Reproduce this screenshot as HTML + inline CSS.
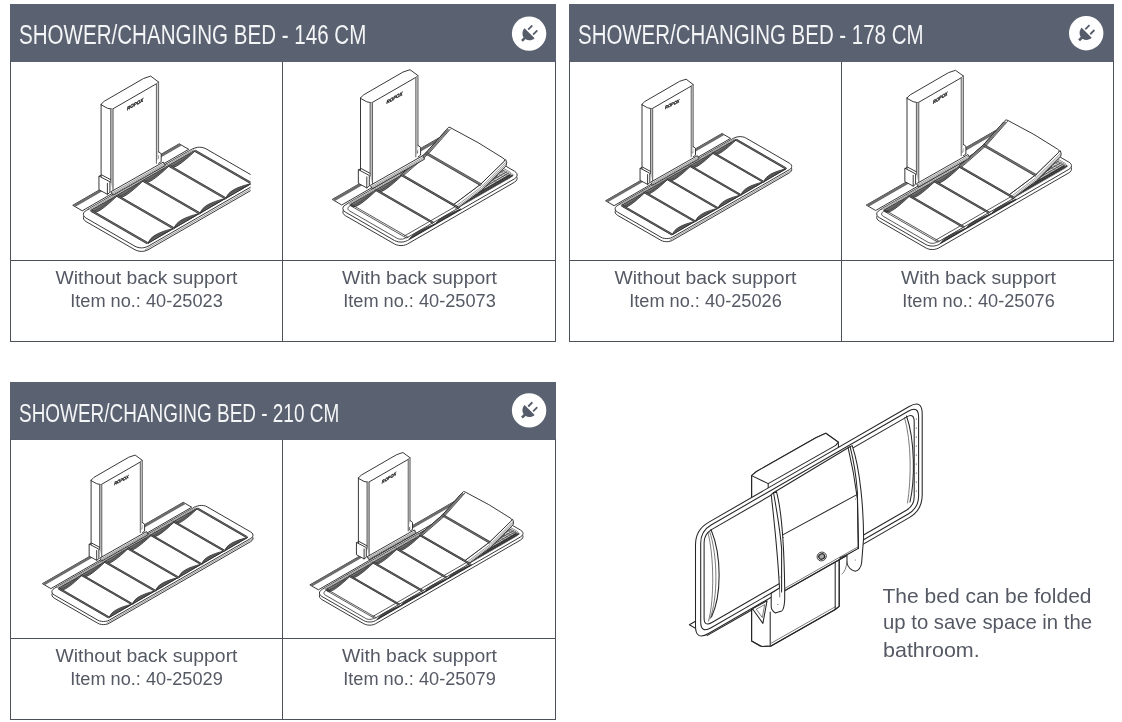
<!DOCTYPE html>
<html><head><meta charset="utf-8"><title>Shower/Changing Bed</title>
<style>
html,body{margin:0;padding:0;background:#fff;}
body{will-change:transform;width:1122px;height:722px;position:relative;overflow:hidden;font-family:"Liberation Sans",sans-serif;color:#545964;}
.card{position:absolute;width:546px;height:338px;}
.hd{position:absolute;left:0;top:0;width:546px;height:58px;background:#5a6170;}
.hd h2{position:absolute;left:9.4px;top:15.5px;margin:0;font-weight:400;font-size:26.8px;line-height:30px;color:#f4f5f7;white-space:nowrap;transform-origin:0 50%;transform:scaleX(.7674);letter-spacing:0;}
.ic{position:absolute;left:502px;top:13px;width:34px;height:34px;}
.bx{position:absolute;left:0;top:57px;width:544px;height:280px;border:1px solid #4c5058;border-top:none;}
.c2w .bx{width:543px}.c2w .hd{width:545px}.c2w .hl{width:545px}
.vl{position:absolute;left:272px;top:58px;width:1px;height:280px;background:#4c5058;}
.hl{position:absolute;left:0;top:256px;width:546px;height:1px;background:#4c5058;}
.cap{position:absolute;top:262.5px;width:273px;text-align:center;font-size:18px;line-height:23.6px;white-space:nowrap;}
.cap span{display:block;}
.cap .a{transform:scaleX(1.076);}
.cap .b{transform:scaleX(1.01);}
.c1{left:0}.c2{left:273px}
.note{position:absolute;left:882.5px;top:581.5px;font-size:21px;line-height:27.3px;white-space:nowrap;}
.note span{display:block;transform-origin:0 50%;}
svg.dr{position:absolute;left:0;top:0;pointer-events:none}
svg.ic2 path,svg.ic2 rect{stroke:none}
svg.dr path{fill:none;stroke:#2e2e30;stroke-width:.95;stroke-linejoin:round;stroke-linecap:round}
svg.dr .lw{fill:#fff}
svg.dr .w{fill:#fff;stroke:none}
svg.dr .t{stroke-width:.6;stroke:#555}
svg.dr .g{stroke:#555;stroke-width:.9}
svg.dr .k{stroke:#2e2e30;stroke-width:.8}
svg.dr .k2{stroke:#6c6c6c;stroke-width:2.7;stroke-linecap:butt}
svg.dr .t2{stroke:#333;stroke-width:.6}
svg.dr .sm{stroke:#777;stroke-width:1.7;stroke-linecap:butt}
svg.dr .tr{fill:#d4d4d4;stroke:none}
svg.dr .k3{stroke:#333;stroke-width:1.3}
svg.dr .gb{fill:#bdbdbd;stroke:none}
svg.dr .gb2{fill:#d0d0d0;stroke:none}
svg.dr .cr{fill:#6a6a6a;stroke:#2e2e30;stroke-width:.8}
svg.dr path.f{stroke:#262628;stroke-width:1.05}
svg.dr path.f.t{stroke-width:.7;stroke:#444}
svg.dr .logo{font:italic 700 5px "Liberation Sans",sans-serif;fill:#222;stroke:#222;stroke-width:.35;text-anchor:middle}
</style></head><body>

<div class="card" style="left:10px;top:4px">
 <div class="hd"><h2>SHOWER/CHANGING BED - 146 CM</h2></div>
 <div class="bx"></div><div class="vl"></div><div class="hl"></div>
 <div class="cap c1"><span class="a">Without back support</span><span class="b">Item no.: 40-25023</span></div>
 <div class="cap c2"><span class="a">With back support</span><span class="b">Item no.: 40-25073</span></div>
</div>

<div class="card c2w" style="left:569px;top:4px">
 <div class="hd"><h2 style="transform:scaleX(.7632)">SHOWER/CHANGING BED - 178 CM</h2></div>
 <div class="bx"></div><div class="vl"></div><div class="hl"></div>
 <div class="cap c1"><span class="a">Without back support</span><span class="b">Item no.: 40-25026</span></div>
 <div class="cap c2"><span class="a">With back support</span><span class="b">Item no.: 40-25076</span></div>
</div>

<div class="card" style="left:10px;top:382px">
 <div class="hd"><h2 style="font-size:25.6px;top:16px;transform:scaleX(.7407)">SHOWER/CHANGING BED - 210 CM</h2></div>
 <div class="bx"></div><div class="vl"></div><div class="hl"></div>
 <div class="cap c1"><span class="a">Without back support</span><span class="b">Item no.: 40-25029</span></div>
 <div class="cap c2"><span class="a">With back support</span><span class="b">Item no.: 40-25079</span></div>
</div>

<svg class="dr" width="1122" height="722" viewBox="0 0 1122 722">
<clipPath id="cl1"><rect x="0" y="62" width="250.6" height="199"/></clipPath>
<g id="bed1" clip-path="url(#cl1)">
<path class="lw" d="M73.1 205.1 L179.2 143.8 L188.7 149.3 L82.6 210.6Z"/>
<path class="k2" d="M74.4 205.8 L180.5 144.6"/>
<path class="w" d="M101.1 104.3 L104.3 101.2 L143.5 78.5 L150.6 76.1 L158.6 82 L158.6 154.3 L156.4 164.3 L113.4 192.3 L110.7 192.3 L101.1 184.3Z"/>
<path class="l" d="M101.1 104.3 L104.3 101.2 L143.5 78.5 L150.6 76.1 L158.6 82 L156.4 83.8 L112.3 109.2 L107.8 108.3Z"/>
<path class="l" d="M101.1 104.3 L101.1 176.8"/>
<path class="gb" d="M110.7 108.9 L113.1 109.2 L113.1 191.3 L110.7 182.3Z"/>
<path class="gb2" d="M156.4 83.8 L158.6 82 L158.6 152.3 L156.4 163.3Z"/>
<path class="g" d="M110.7 108.9 L110.7 182.3"/>
<path class="g" d="M113.1 109.2 L113.1 191.3"/>
<path class="g" d="M156.4 83.8 L156.4 163.3"/>
<path class="g" d="M158.6 82 L158.6 152.3"/>
<path class="lw" d="M99.3 176.2 L109.9 181.8 L109.9 192.4 L107.4 194.3 L99.3 189.9Z"/>
<path class="l" d="M107.4 183.3 L107.4 194.3"/>
<path class="l" d="M99.3 176.2 L101.7 174.9 L110.7 179.7"/>
<path class="lw" d="M158.7 151.8 L161.2 153.7 L161.2 161.5 L158.7 163.3"/>
<text class="logo" transform="matrix(0.9 -0.5 0 1 135.1 105.9)">ROPOX</text>
<path class="lw" d="M193 152.3 L194.9 151.5 L197.2 150.9 L199.5 150.7 L201.9 150.9 L204.1 151.5 L206 152.3 L255 180.6 L256.4 181.6 L257.3 182.9 L257.7 184.3 L257.3 185.7 L256.4 187 L255 188.1 L148 249.8 L146.1 250.6 L143.9 251.2 L141.5 251.4 L139.1 251.2 L136.9 250.6 L135 249.8 L86.1 221.6 L84.6 220.5 L83.7 219.2 L83.4 217.8 L83.7 216.4 L84.6 215.1 L86.1 214.1Z"/>
<path class="lw" d="M193 148.8 L194.9 148 L197.2 147.4 L199.5 147.2 L201.9 147.4 L204.1 148 L206 148.8 L255 177.1 L256.4 178.1 L257.3 179.4 L257.7 180.8 L257.3 182.2 L256.4 183.5 L255 184.6 L148 246.3 L146.1 247.1 L143.9 247.7 L141.5 247.9 L139.1 247.7 L136.9 247.1 L135 246.3 L86.1 218.1 L84.6 217 L83.7 215.7 L83.4 214.3 L83.7 212.9 L84.6 211.6 L86.1 210.6Z"/>
<path class="t" d="M145.4 249.6 L257.6 184.9"/>
<path class="w" d="M87.9 208.8 L191.7 148.9 L251.4 183.3 L147.6 243.2Z"/>
<path class="cr" d="M91.4 210.8 C93.5 216.1 102.3 210.1 117.3 195.8Z"/>
<path class="t2" d="M91.4 210.8 C93.5 213.1 102.3 207.6 112.1 198.8"/>
<path class="k" d="M88.3 209 L114.2 194"/>
<path class="t" d="M89.5 209.7 L115.4 194.7"/>
<path class="k" d="M90.6 210.3 L116.6 195.4"/>
<path class="cr" d="M117.3 195.8 C119.4 201.1 128.2 195.1 143.3 180.8Z"/>
<path class="t2" d="M117.3 195.8 C119.4 198.2 128.2 192.6 138.1 183.8"/>
<path class="k" d="M114.2 194 L140.2 179"/>
<path class="t" d="M115.4 194.7 L141.4 179.7"/>
<path class="k" d="M116.6 195.4 L142.5 180.4"/>
<path class="cr" d="M143.3 180.8 C145.4 186.1 154.2 180.1 169.3 165.8Z"/>
<path class="t2" d="M143.3 180.8 C145.4 183.2 154.2 177.6 164.1 168.8"/>
<path class="k" d="M140.2 179 L166.1 164"/>
<path class="t" d="M141.4 179.7 L167.3 164.7"/>
<path class="k" d="M142.5 180.4 L168.5 165.4"/>
<path class="cr" d="M169.3 165.8 C171.3 171.1 180.2 165.1 195.2 150.9Z"/>
<path class="t2" d="M169.3 165.8 C171.3 168.2 180.2 162.6 190 153.8"/>
<path class="k" d="M166.1 164 L192.1 149.1"/>
<path class="t" d="M167.3 164.7 L193.3 149.8"/>
<path class="k" d="M168.5 165.4 L194.4 150.4"/>
<path class="cr" d="M148.3 242.8 C150.3 236.3 158.7 232.1 173.1 228.5Z"/>
<path class="t2" d="M148.3 242.8 C150.3 238.7 158.7 234.3 168.1 231.4"/>
<path class="cr" d="M174.2 227.9 C176.2 221.3 184.7 217.2 199.1 213.5Z"/>
<path class="t2" d="M174.2 227.9 C176.2 223.7 184.7 219.3 194.1 216.4"/>
<path class="cr" d="M200.2 212.9 C202.2 206.3 210.6 202.2 225 198.5Z"/>
<path class="t2" d="M200.2 212.9 C202.2 208.8 210.6 204.3 220.1 201.4"/>
<path class="cr" d="M226.1 197.9 C228.1 191.3 236.6 187.2 251 183.6Z"/>
<path class="t2" d="M226.1 197.9 C228.1 193.8 236.6 189.3 246 186.4"/>
<path class="l" d="M147.8 243.4 L251.6 183.4"/>
<path class="sm" d="M91.4 210.8 L147.6 243.2"/>
<path class="k" d="M90.6 211.2 L146.8 243.7"/>
<path class="k" d="M92.1 210.4 L148.3 242.8"/>
<path class="sm" d="M117.3 195.8 L174.1 228.6"/>
<path class="k" d="M116.6 196.2 L173.3 229"/>
<path class="k" d="M118.1 195.4 L174.8 228.1"/>
<path class="sm" d="M143.3 180.8 L200 213.6"/>
<path class="k" d="M142.6 181.3 L199.3 214"/>
<path class="k" d="M144 180.4 L200.8 213.2"/>
<path class="sm" d="M169.3 165.8 L226 198.6"/>
<path class="k" d="M168.5 166.3 L225.2 199"/>
<path class="k" d="M170 165.4 L226.7 198.2"/>
<path class="sm" d="M195.2 150.9 L250.5 182.8"/>
<path class="k" d="M194.5 151.3 L249.8 183.2"/>
<path class="k" d="M195.9 150.4 L251.3 182.4"/>
<path class="lw" d="M111.2 191.6 L163.3 162.1 L165.3 165.5 L113.2 195Z"/>
<path class="t" d="M112 193 L164.1 163.5"/>
<path class="t" d="M112.6 194.1 L164.7 164.6"/>
</g>
<g id="bed2">
<path class="lw" d="M332.6 199.2 L438.7 138 L448.2 143.5 L342.1 204.8Z"/>
<path class="k2" d="M333.9 200 L440 138.8"/>
<path class="w" d="M360.5 97.9 L363.7 94.8 L402.9 72.1 L410 69.7 L418 75.6 L418 147.9 L415.8 157.9 L372.8 185.9 L370.1 185.9 L360.5 177.9Z"/>
<path class="l" d="M360.5 97.9 L363.7 94.8 L402.9 72.1 L410 69.7 L418 75.6 L415.8 77.4 L371.7 102.8 L367.2 101.9Z"/>
<path class="l" d="M360.5 97.9 L360.5 170.4"/>
<path class="gb" d="M370.1 102.5 L372.5 102.8 L372.5 184.9 L370.1 175.9Z"/>
<path class="gb2" d="M415.8 77.4 L418 75.6 L418 145.9 L415.8 156.9Z"/>
<path class="g" d="M370.1 102.5 L370.1 175.9"/>
<path class="g" d="M372.5 102.8 L372.5 184.9"/>
<path class="g" d="M415.8 77.4 L415.8 156.9"/>
<path class="g" d="M418 75.6 L418 145.9"/>
<path class="lw" d="M358.7 169.8 L369.3 175.4 L369.3 186 L366.8 187.9 L358.7 183.5Z"/>
<path class="l" d="M366.8 176.9 L366.8 187.9"/>
<path class="l" d="M358.7 169.8 L361.1 168.5 L370.1 173.3"/>
<path class="lw" d="M418.1 145.4 L420.6 147.3 L420.6 155.1 L418.1 156.9"/>
<text class="logo" transform="matrix(0.9 -0.5 0 1 394.5 99.5)">ROPOX</text>
<path class="lw" d="M452.5 146.5 L454.4 145.7 L456.7 145.1 L459 144.9 L461.4 145.1 L463.6 145.7 L465.5 146.5 L514.5 174.8 L515.9 175.8 L516.8 177.1 L517.2 178.5 L516.8 179.9 L515.9 181.2 L514.5 182.2 L407.5 244 L405.6 244.8 L403.4 245.4 L401 245.6 L398.6 245.4 L396.4 244.8 L394.5 244 L345.6 215.8 L344.1 214.7 L343.2 213.4 L342.9 212 L343.2 210.6 L344.1 209.3 L345.6 208.2Z"/>
<path class="lw" d="M452.5 143 L454.4 142.2 L456.7 141.6 L459 141.4 L461.4 141.6 L463.6 142.2 L465.5 143 L514.5 171.2 L515.9 172.3 L516.8 173.6 L517.2 175 L516.8 176.4 L515.9 177.7 L514.5 178.8 L407.5 240.5 L405.6 241.3 L403.4 241.9 L401 242.1 L398.6 241.9 L396.4 241.3 L394.5 240.5 L345.6 212.2 L344.1 211.2 L343.2 209.9 L342.9 208.5 L343.2 207.1 L344.1 205.8 L345.6 204.8Z"/>
<path class="k" d="M454.7 145.4 L456 144.8 L457.5 144.4 L459 144.3 L460.6 144.4 L462.1 144.8 L463.4 145.4 L510.4 172.5 L511.4 173.2 L512 174.1 L512.2 175 L512 175.9 L511.4 176.8 L510.4 177.5 L405.3 238.1 L404.1 238.7 L402.6 239.1 L401 239.2 L399.4 239.1 L398 238.7 L396.7 238.1 L349.7 211 L348.7 210.3 L348.1 209.4 L347.9 208.5 L348.1 207.6 L348.7 206.7 L349.7 206Z"/>
<path class="w" d="M347.4 203 L398.8 173.3 L458.4 207.8 L407.1 237.4Z"/>
<path class="cr" d="M350.9 205 C352.9 210.3 361.7 204.4 376.6 190.2Z"/>
<path class="t2" d="M350.9 205 C352.9 207.4 361.7 201.8 371.4 193.1"/>
<path class="k" d="M347.8 203.2 L373.4 188.4"/>
<path class="t" d="M349 203.9 L374.6 189.1"/>
<path class="k" d="M350.1 204.5 L375.8 189.7"/>
<path class="cr" d="M376.6 190.2 C378.6 195.4 387.3 189.5 402.2 175.3Z"/>
<path class="t2" d="M376.6 190.2 C378.6 192.5 387.3 187 397.1 178.3"/>
<path class="k" d="M373.4 188.4 L399.1 173.5"/>
<path class="t" d="M374.6 189.1 L400.3 174.2"/>
<path class="k" d="M375.8 189.7 L401.5 174.9"/>
<path class="cr" d="M410.4 238.2 C412.3 234 420.5 229.7 434.6 224.2Z"/>
<path class="t2" d="M410.4 238.2 C412.3 235.4 420.5 230.9 429.7 227"/>
<path class="cr" d="M436 223.3 C438 219.2 446.2 214.9 460.3 209.3Z"/>
<path class="t2" d="M436 223.3 C438 220.6 446.2 216 455.4 212.1"/>
<path class="k" d="M409.3 238.8 L460.7 209.1"/>
<path class="k" d="M404.5 235.9 L455.8 206.3"/>
<path class="k" d="M407.3 237.6 L458.7 207.9"/>
<path class="k" d="M350.1 205.4 L406.3 237.9"/>
<path class="k" d="M351.6 204.6 L407.8 237"/>
<path class="sm" d="M376.6 190.2 L433.3 222.9"/>
<path class="k" d="M375.8 190.6 L432.5 223.3"/>
<path class="k" d="M377.3 189.8 L434 222.5"/>
<path class="tr" d="M460 206.7 L514.9 175 L474.6 151.7 L506.5 165.9Z"/>
<path class="k" d="M466.3 201.4 L512.1 174.9"/>
<path class="k" d="M468.2 198.5 L510.6 174"/>
<path class="k" d="M470.4 195.2 L508.8 173"/>
<path class="k" d="M473.1 191.1 L506.7 171.8"/>
<path class="k" d="M476.3 186.3 L504.1 170.2"/>
<path class="k" d="M480.1 180.6 L501 168.5"/>
<path class="t" d="M486 160.8 L511.9 175.8"/>
<path class="t" d="M483.9 162.1 L509.7 177"/>
<path class="t" d="M480.8 163.8 L506.7 178.8"/>
<path class="t" d="M477.4 165.8 L503.2 180.8"/>
<path class="t" d="M473.1 168.3 L498.9 183.2"/>
<path class="k3" d="M460.9 205.2 L512.4 175.6"/>
<path class="k3" d="M464.6 201.3 L509.5 175.4"/>
<path class="lw" d="M494.2 174.6 L474.5 194.5 L477.7 194.1 L497.2 175.6Z"/>
<path class="lw" d="M453.2 204.8 L480.3 184.5 L505.7 159.6 L506.7 162.5 L506.2 165.7 L481.4 190.3 L456.8 208.8 L458.1 208.6Z"/>
<path class="t" d="M455.1 206.8 L481 187.2 L506 162.2"/>
<path class="t" d="M455.5 208.5 L481.2 188.9 L506.1 164.1"/>
<path class="lw" d="M400.9 174.6 L425.8 153 L446.5 129.7 Q449 125.8 451 128 Q479.2 142.2 502.9 158 Q505.9 159.3 504.2 161.3 L480.3 184.5 L453.2 204.8Z"/>
<path class="sm" d="M402.1 175.2 L427 153.7 L448.6 129.2"/>
<path class="k" d="M400.9 174.6 L425.8 153 L446.5 129.7"/>
<path class="k" d="M403.2 175.9 L428.1 154.3 L450.5 129"/>
<path class="sm" d="M425.8 153 L481 184.9"/>
<path class="k" d="M425.1 153.7 L480.3 185.5"/>
<path class="k" d="M426.5 152.3 L481.7 184.1"/>
<path class="sm" d="M402.2 175.3 L459 208.1"/>
<path class="k" d="M401.5 175.8 L458.2 208.5"/>
<path class="k" d="M403 174.9 L459.7 207.7"/>
<path class="lw" d="M370.6 185.2 L422.7 155.7 L424.7 159.1 L372.6 188.6Z"/>
<path class="t" d="M371.4 186.6 L423.5 157.1"/>
<path class="t" d="M372 187.7 L424.1 158.2"/>
</g>
<g id="bed3">
<path class="lw" d="M605.9 200.6 L722 133.5 L730.5 138.4 L614.4 205.5Z"/>
<path class="k2" d="M607.1 201.2 L723.2 134.2"/>
<path class="w" d="M642 104.3 L644.8 101.5 L679.7 81.3 L686.1 79.2 L693.2 84.5 L693.2 148.8 L691.2 157.7 L652.9 182.6 L650.5 182.6 L642 175.5Z"/>
<path class="l" d="M642 104.3 L644.8 101.5 L679.7 81.3 L686.1 79.2 L693.2 84.5 L691.2 86.1 L652 108.7 L648 107.9Z"/>
<path class="l" d="M642 104.3 L642 168.8"/>
<path class="gb" d="M650.5 108.4 L652.7 108.7 L652.7 181.7 L650.5 173.7Z"/>
<path class="gb2" d="M691.2 86.1 L693.2 84.5 L693.2 147 L691.2 156.8Z"/>
<path class="g" d="M650.5 108.4 L650.5 173.7"/>
<path class="g" d="M652.7 108.7 L652.7 181.7"/>
<path class="g" d="M691.2 86.1 L691.2 156.8"/>
<path class="g" d="M693.2 84.5 L693.2 147"/>
<path class="lw" d="M640.4 168.3 L649.8 173.3 L649.8 182.7 L647.6 184.4 L640.4 180.5Z"/>
<path class="l" d="M647.6 174.6 L647.6 184.4"/>
<path class="l" d="M640.4 168.3 L642.5 167.1 L650.5 171.4"/>
<path class="lw" d="M693.3 146.6 L695.5 148.3 L695.5 155.2 L693.3 156.8"/>
<text class="logo" transform="matrix(0.8 -0.4 0 0.9 672.3 105.7)">ROPOX</text>
<path class="lw" d="M734.3 141.1 L736 140.4 L738 139.9 L740.1 139.7 L742.2 139.9 L744.2 140.4 L745.9 141.1 L789.3 166.2 L790.6 167.2 L791.5 168.3 L791.7 169.5 L791.5 170.7 L790.6 171.9 L789.3 172.9 L672.5 240.3 L670.8 241.1 L668.8 241.5 L666.7 241.7 L664.6 241.5 L662.6 241.1 L660.9 240.3 L617.5 215.3 L616.2 214.3 L615.4 213.1 L615.1 211.9 L615.4 210.7 L616.2 209.6 L617.5 208.6Z"/>
<path class="lw" d="M734.3 138 L736 137.2 L738 136.8 L740.1 136.6 L742.2 136.8 L744.2 137.2 L745.9 138 L789.3 163.1 L790.6 164 L791.5 165.2 L791.7 166.4 L791.5 167.6 L790.6 168.8 L789.3 169.7 L672.5 237.2 L670.8 238 L668.8 238.4 L666.7 238.6 L664.6 238.4 L662.6 238 L660.9 237.2 L617.5 212.1 L616.2 211.2 L615.4 210 L615.1 208.8 L615.4 207.6 L616.2 206.4 L617.5 205.5Z"/>
<path class="t" d="M670.2 240.1 L791.7 170"/>
<path class="w" d="M619.1 203.9 L733.2 138 L786.2 168.6 L672.1 234.5Z"/>
<path class="cr" d="M622.2 205.7 C624 210.4 631.8 205.1 645 192.5Z"/>
<path class="t2" d="M622.2 205.7 C624 207.8 631.8 202.9 640.4 195.1"/>
<path class="k" d="M619.4 204.1 L642.2 190.9"/>
<path class="t" d="M620.5 204.7 L643.3 191.5"/>
<path class="k" d="M621.5 205.3 L644.3 192.1"/>
<path class="cr" d="M645 192.5 C646.8 197.2 654.6 192 667.8 179.3Z"/>
<path class="t2" d="M645 192.5 C646.8 194.6 654.6 189.7 663.3 182"/>
<path class="k" d="M642.2 190.9 L665 177.7"/>
<path class="t" d="M643.3 191.5 L666.1 178.4"/>
<path class="k" d="M644.3 192.1 L667.1 178.9"/>
<path class="cr" d="M667.8 179.3 C669.6 184 677.4 178.8 690.6 166.2Z"/>
<path class="t2" d="M667.8 179.3 C669.6 181.4 677.4 176.5 686.1 168.8"/>
<path class="k" d="M665 177.7 L687.9 164.6"/>
<path class="t" d="M666.1 178.4 L688.9 165.2"/>
<path class="k" d="M667.1 178.9 L689.9 165.8"/>
<path class="cr" d="M690.6 166.2 C692.5 170.8 700.2 165.6 713.5 153Z"/>
<path class="t2" d="M690.6 166.2 C692.5 168.3 700.2 163.4 708.9 155.6"/>
<path class="k" d="M687.9 164.6 L710.7 151.4"/>
<path class="t" d="M688.9 165.2 L711.8 152"/>
<path class="k" d="M689.9 165.8 L712.8 152.6"/>
<path class="cr" d="M713.5 153 C715.3 157.7 723 152.4 736.3 139.8Z"/>
<path class="t2" d="M713.5 153 C715.3 155.1 723 150.2 731.7 142.4"/>
<path class="k" d="M710.7 151.4 L733.5 138.2"/>
<path class="t" d="M711.8 152 L734.6 138.8"/>
<path class="k" d="M712.8 152.6 L735.6 139.4"/>
<path class="cr" d="M672.7 234.1 C674.4 228.3 681.9 224.7 694.5 221.5Z"/>
<path class="t2" d="M672.7 234.1 C674.4 230.5 681.9 226.6 690.2 224.1"/>
<path class="cr" d="M695.5 221 C697.3 215.2 704.7 211.5 717.3 208.4Z"/>
<path class="t2" d="M695.5 221 C697.3 217.3 704.7 213.4 713 210.9"/>
<path class="cr" d="M718.3 207.8 C720.1 202 727.5 198.3 740.2 195.2Z"/>
<path class="t2" d="M718.3 207.8 C720.1 204.1 727.5 200.2 735.8 197.7"/>
<path class="cr" d="M741.2 194.6 C742.9 188.8 750.3 185.2 763 182Z"/>
<path class="t2" d="M741.2 194.6 C742.9 191 750.3 187 758.6 184.5"/>
<path class="cr" d="M764 181.4 C765.7 175.6 773.1 172 785.8 168.8Z"/>
<path class="t2" d="M764 181.4 C765.7 177.8 773.1 173.9 781.4 171.4"/>
<path class="l" d="M672.2 234.6 L786.3 168.7"/>
<path class="sm" d="M622.2 205.7 L672.1 234.5"/>
<path class="k" d="M621.5 206.1 L671.4 234.9"/>
<path class="k" d="M622.8 205.3 L672.7 234.1"/>
<path class="sm" d="M645 192.5 L695.4 221.6"/>
<path class="k" d="M644.3 192.9 L694.7 222"/>
<path class="k" d="M645.7 192.1 L696 221.2"/>
<path class="sm" d="M667.8 179.3 L718.2 208.4"/>
<path class="k" d="M667.2 179.7 L717.5 208.8"/>
<path class="k" d="M668.5 179 L718.8 208"/>
<path class="sm" d="M690.6 166.2 L741 195.2"/>
<path class="k" d="M690 166.5 L740.3 195.6"/>
<path class="k" d="M691.3 165.8 L741.7 194.9"/>
<path class="sm" d="M713.5 153 L763.8 182.1"/>
<path class="k" d="M712.8 153.4 L763.2 182.4"/>
<path class="k" d="M714.1 152.6 L764.5 181.7"/>
<path class="sm" d="M736.3 139.8 L785.4 168.2"/>
<path class="k" d="M735.6 140.2 L784.8 168.6"/>
<path class="k" d="M736.9 139.4 L786.1 167.8"/>
<path class="lw" d="M651 182 L697.4 155.7 L699.1 158.8 L652.8 185Z"/>
<path class="t" d="M651.7 183.2 L698.1 157"/>
<path class="t" d="M652.2 184.2 L698.6 158"/>
</g>
<g id="bed4">
<path class="lw" d="M866.6 204.9 L995.9 130.3 L1005.3 135.7 L876 210.3Z"/>
<path class="k2" d="M867.9 205.7 L997.2 131"/>
<path class="w" d="M907 97.9 L910.1 94.9 L948.6 72.6 L955.5 70.3 L963.4 76 L963.4 146.9 L961.2 156.7 L919.1 184.1 L916.4 184.1 L907 176.3Z"/>
<path class="l" d="M907 97.9 L910.1 94.9 L948.6 72.6 L955.5 70.3 L963.4 76 L961.2 77.8 L918 102.7 L913.6 101.8Z"/>
<path class="l" d="M907 97.9 L907 168.9"/>
<path class="gb" d="M916.4 102.4 L918.8 102.7 L918.8 183.2 L916.4 174.3Z"/>
<path class="gb2" d="M961.2 77.8 L963.4 76 L963.4 144.9 L961.2 155.7Z"/>
<path class="g" d="M916.4 102.4 L916.4 174.3"/>
<path class="g" d="M918.8 102.7 L918.8 183.2"/>
<path class="g" d="M961.2 77.8 L961.2 155.7"/>
<path class="g" d="M963.4 76 L963.4 144.9"/>
<path class="lw" d="M905.2 168.4 L915.6 173.9 L915.6 184.2 L913.2 186.1 L905.2 181.8Z"/>
<path class="l" d="M913.2 175.3 L913.2 186.1"/>
<path class="l" d="M905.2 168.4 L907.6 167.1 L916.4 171.8"/>
<path class="lw" d="M963.4 144.4 L965.9 146.3 L965.9 154 L963.4 155.7"/>
<text class="logo" transform="matrix(0.8 -0.5 0 1 940.3 99.5)">ROPOX</text>
<path class="lw" d="M1009.5 138.6 L1011.4 137.8 L1013.6 137.3 L1015.9 137.1 L1018.2 137.3 L1020.4 137.8 L1022.3 138.6 L1068.8 165.5 L1070.3 166.6 L1071.2 167.8 L1071.5 169.2 L1071.2 170.5 L1070.3 171.8 L1068.8 172.9 L938.7 248 L936.8 248.8 L934.7 249.4 L932.3 249.5 L930 249.4 L927.8 248.8 L926 248 L879.4 221.1 L877.9 220 L877 218.8 L876.7 217.4 L877 216.1 L877.9 214.8 L879.4 213.8Z"/>
<path class="lw" d="M1009.5 135.2 L1011.4 134.3 L1013.6 133.8 L1015.9 133.7 L1018.2 133.8 L1020.4 134.3 L1022.3 135.2 L1068.8 162.1 L1070.3 163.2 L1071.2 164.4 L1071.5 165.7 L1071.2 167.1 L1070.3 168.3 L1068.8 169.4 L938.7 244.6 L936.8 245.4 L934.7 245.9 L932.3 246.1 L930 245.9 L927.8 245.4 L926 244.6 L879.4 217.7 L877.9 216.6 L877 215.3 L876.7 214 L877 212.7 L877.9 211.4 L879.4 210.3Z"/>
<path class="k" d="M1011.6 137.5 L1012.9 136.9 L1014.3 136.6 L1015.9 136.5 L1017.4 136.6 L1018.9 136.9 L1020.1 137.5 L1064.9 163.3 L1065.8 164 L1066.4 164.9 L1066.6 165.7 L1066.4 166.6 L1065.8 167.5 L1064.9 168.2 L936.6 242.3 L935.3 242.8 L933.9 243.2 L932.3 243.3 L930.8 243.2 L929.3 242.8 L928.1 242.3 L883.4 216.4 L882.4 215.7 L881.8 214.9 L881.6 214 L881.8 213.1 L882.4 212.3 L883.4 211.6Z"/>
<path class="w" d="M881.1 208.6 L956.7 165 L1013.9 197.9 L938.3 241.6Z"/>
<path class="cr" d="M884.5 210.6 C886.6 215.7 895.1 209.9 909.7 196Z"/>
<path class="t2" d="M884.5 210.6 C886.6 212.9 895.1 207.5 904.7 198.9"/>
<path class="k" d="M881.5 208.8 L906.7 194.3"/>
<path class="t" d="M882.7 209.5 L907.9 194.9"/>
<path class="k" d="M883.8 210.1 L909 195.6"/>
<path class="cr" d="M909.7 196 C911.8 201.2 920.3 195.4 934.9 181.5Z"/>
<path class="t2" d="M909.7 196 C911.8 198.3 920.3 192.9 929.9 184.4"/>
<path class="k" d="M906.7 194.3 L931.9 179.7"/>
<path class="t" d="M907.9 194.9 L933.1 180.4"/>
<path class="k" d="M909 195.6 L934.2 181"/>
<path class="cr" d="M934.9 181.5 C937 186.6 945.5 180.8 960.1 166.9Z"/>
<path class="t2" d="M934.9 181.5 C937 183.8 945.5 178.4 955.1 169.8"/>
<path class="k" d="M931.9 179.7 L957.1 165.2"/>
<path class="t" d="M933.1 180.4 L958.3 165.8"/>
<path class="k" d="M934.2 181 L959.4 166.5"/>
<path class="cr" d="M941.5 242.3 C943.4 238.2 951.5 234 965.2 228.6Z"/>
<path class="t2" d="M941.5 242.3 C943.4 239.6 951.5 235.1 960.5 231.3"/>
<path class="cr" d="M966.7 227.7 C968.6 223.7 976.7 219.4 990.4 214Z"/>
<path class="t2" d="M966.7 227.7 C968.6 225 976.7 220.6 985.7 216.7"/>
<path class="cr" d="M991.9 213.2 C993.8 209.1 1001.9 204.9 1015.6 199.5Z"/>
<path class="t2" d="M991.9 213.2 C993.8 210.5 1001.9 206 1010.9 202.2"/>
<path class="k" d="M940.5 242.9 L1016.1 199.2"/>
<path class="k" d="M935.7 240.1 L1011.3 196.5"/>
<path class="k" d="M938.5 241.7 L1014.1 198.1"/>
<path class="k" d="M883.8 211 L937.5 242"/>
<path class="k" d="M885.3 210.2 L939 241.2"/>
<path class="sm" d="M909.7 196 L964 227.3"/>
<path class="k" d="M909 196.4 L963.2 227.7"/>
<path class="k" d="M910.5 195.6 L964.7 226.9"/>
<path class="sm" d="M934.9 181.5 L989.2 212.8"/>
<path class="k" d="M934.2 181.9 L988.5 213.2"/>
<path class="k" d="M935.7 181.1 L989.9 212.4"/>
<path class="tr" d="M1015.4 196.9 L1069.3 165.8 L1030.7 143.5 L1061.1 156.8Z"/>
<path class="k" d="M1021.5 191.6 L1066.6 165.7"/>
<path class="k" d="M1023.5 188.8 L1065 164.8"/>
<path class="k" d="M1025.6 185.6 L1063.3 163.8"/>
<path class="k" d="M1028.2 181.6 L1061.2 162.6"/>
<path class="k" d="M1031.4 176.8 L1058.7 161.1"/>
<path class="k" d="M1035.2 171.2 L1055.7 159.4"/>
<path class="t" d="M1041.6 152.2 L1066.3 166.5"/>
<path class="t" d="M1039.5 153.5 L1064.2 167.7"/>
<path class="t" d="M1036.6 155.2 L1061.2 169.4"/>
<path class="t" d="M1033.2 157.2 L1057.8 171.4"/>
<path class="t" d="M1028.9 159.6 L1053.6 173.8"/>
<path class="k3" d="M1016.3 195.4 L1066.8 166.3"/>
<path class="k3" d="M1019.9 191.6 L1064 166.1"/>
<path class="lw" d="M1049 165.4 L1029.6 184.9 L1032.8 184.5 L1051.9 166.3Z"/>
<path class="lw" d="M1008.8 195 L1035.3 175.1 L1060.2 150.6 L1061.2 153.5 L1060.7 156.6 L1036.4 180.8 L1012.3 198.9 L1013.5 198.7Z"/>
<path class="t" d="M1010.6 196.9 L1036 177.7 L1060.6 153.2"/>
<path class="t" d="M1011 198.6 L1036.2 179.4 L1060.6 155.1"/>
<path class="lw" d="M958.9 166.2 L983.3 145 L1003.6 122.1 Q1006.1 118.3 1008 120.5 Q1035 134 1057.5 149.1 Q1060.4 150.4 1058.7 152.3 L1035.3 175.1 L1008.8 195Z"/>
<path class="sm" d="M960 166.8 L984.4 145.7 L1005.7 121.7"/>
<path class="k" d="M958.9 166.2 L983.3 145 L1003.6 122.1"/>
<path class="k" d="M961.1 167.5 L985.5 146.3 L1007.5 121.5"/>
<path class="sm" d="M983.3 145 L1036 175.5"/>
<path class="k" d="M982.6 145.6 L1035.3 176.1"/>
<path class="k" d="M984 144.3 L1036.7 174.7"/>
<path class="sm" d="M960.1 166.9 L1014.4 198.2"/>
<path class="k" d="M959.4 167.3 L1013.7 198.6"/>
<path class="k" d="M960.9 166.5 L1015.1 197.8"/>
<path class="lw" d="M916.9 183.5 L968 154.5 L969.9 157.9 L918.9 186.8Z"/>
<path class="t" d="M917.7 184.8 L968.7 155.9"/>
<path class="t" d="M918.3 185.9 L969.3 157"/>
</g>
<g id="bed5">
<path class="lw" d="M42.7 583.5 L183.2 502.3 L191.7 507.2 L51.2 588.4Z"/>
<path class="k2" d="M43.9 584.1 L184.4 503"/>
<path class="w" d="M91.1 480.2 L93.9 477.4 L128.8 457.2 L135.2 455.1 L142.3 460.4 L142.3 524.7 L140.3 533.6 L102 558.5 L99.6 558.5 L91.1 551.4Z"/>
<path class="l" d="M91.1 480.2 L93.9 477.4 L128.8 457.2 L135.2 455.1 L142.3 460.4 L140.3 462 L101.1 484.6 L97.1 483.8Z"/>
<path class="l" d="M91.1 480.2 L91.1 544.7"/>
<path class="gb" d="M99.6 484.3 L101.8 484.6 L101.8 557.6 L99.6 549.6Z"/>
<path class="gb2" d="M140.3 462 L142.3 460.4 L142.3 522.9 L140.3 532.7Z"/>
<path class="g" d="M99.6 484.3 L99.6 549.6"/>
<path class="g" d="M101.8 484.6 L101.8 557.6"/>
<path class="g" d="M140.3 462 L140.3 532.7"/>
<path class="g" d="M142.3 460.4 L142.3 522.9"/>
<path class="lw" d="M89.5 544.2 L98.9 549.2 L98.9 558.6 L96.7 560.3 L89.5 556.4Z"/>
<path class="l" d="M96.7 550.5 L96.7 560.3"/>
<path class="l" d="M89.5 544.2 L91.6 543 L99.6 547.3"/>
<path class="lw" d="M142.4 522.5 L144.6 524.2 L144.6 531.1 L142.4 532.7"/>
<text class="logo" transform="matrix(0.8 -0.4 0 0.9 121.4 481.6)">ROPOX</text>
<path class="lw" d="M195.6 509.9 L197.3 509.2 L199.2 508.7 L201.3 508.5 L203.5 508.7 L205.4 509.2 L207.1 509.9 L250.6 535 L251.9 536 L252.7 537.1 L253 538.3 L252.7 539.5 L251.9 540.7 L250.6 541.7 L109.3 623.2 L107.6 624 L105.6 624.4 L103.5 624.6 L101.4 624.4 L99.4 624 L97.7 623.2 L54.3 598.2 L53 597.2 L52.2 596 L51.9 594.8 L52.2 593.6 L53 592.5 L54.3 591.5Z"/>
<path class="lw" d="M195.6 506.8 L197.3 506 L199.2 505.6 L201.3 505.4 L203.5 505.6 L205.4 506 L207.1 506.8 L250.6 531.9 L251.9 532.8 L252.7 534 L253 535.2 L252.7 536.4 L251.9 537.6 L250.6 538.5 L109.3 620.1 L107.6 620.9 L105.6 621.3 L103.5 621.5 L101.4 621.3 L99.4 620.9 L97.7 620.1 L54.3 595 L53 594.1 L52.2 592.9 L51.9 591.7 L52.2 590.5 L53 589.3 L54.3 588.4Z"/>
<path class="t" d="M107 623 L252.9 538.8"/>
<path class="w" d="M55.9 586.8 L194.4 506.8 L247.4 537.4 L108.9 617.4Z"/>
<path class="cr" d="M59 588.6 C60.8 593.3 68.7 588 82.1 575.3Z"/>
<path class="t2" d="M59 588.6 C60.8 590.7 68.7 585.7 77.5 577.9"/>
<path class="k" d="M56.2 587 L79.3 573.7"/>
<path class="t" d="M57.3 587.6 L80.4 574.3"/>
<path class="k" d="M58.3 588.2 L81.4 574.9"/>
<path class="cr" d="M82.1 575.3 C83.9 579.9 91.8 574.6 105.2 561.9Z"/>
<path class="t2" d="M82.1 575.3 C83.9 577.3 91.8 572.4 100.5 564.6"/>
<path class="k" d="M79.3 573.7 L102.4 560.3"/>
<path class="t" d="M80.4 574.3 L103.5 560.9"/>
<path class="k" d="M81.4 574.9 L104.5 561.5"/>
<path class="cr" d="M105.2 561.9 C107 566.6 114.8 561.3 128.2 548.6Z"/>
<path class="t2" d="M105.2 561.9 C107 564 114.8 559.1 123.6 551.3"/>
<path class="k" d="M102.4 560.3 L125.5 547"/>
<path class="t" d="M103.5 560.9 L126.5 547.6"/>
<path class="k" d="M104.5 561.5 L127.5 548.2"/>
<path class="cr" d="M128.2 548.6 C130.1 553.3 137.9 548 151.3 535.3Z"/>
<path class="t2" d="M128.2 548.6 C130.1 550.7 137.9 545.7 146.7 537.9"/>
<path class="k" d="M125.5 547 L148.5 533.7"/>
<path class="t" d="M126.5 547.6 L149.6 534.3"/>
<path class="k" d="M127.5 548.2 L150.6 534.9"/>
<path class="cr" d="M151.3 535.3 C153.2 539.9 161 534.6 174.4 521.9Z"/>
<path class="t2" d="M151.3 535.3 C153.2 537.4 161 532.4 169.8 524.6"/>
<path class="k" d="M148.5 533.7 L171.6 520.3"/>
<path class="t" d="M149.6 534.3 L172.7 521"/>
<path class="k" d="M150.6 534.9 L173.7 521.5"/>
<path class="cr" d="M174.4 521.9 C176.3 526.6 184.1 521.3 197.5 508.6Z"/>
<path class="t2" d="M174.4 521.9 C176.3 524 184.1 519.1 192.9 511.3"/>
<path class="k" d="M171.6 520.3 L194.7 507"/>
<path class="t" d="M172.7 521 L195.8 507.6"/>
<path class="k" d="M173.7 521.5 L196.8 508.2"/>
<path class="cr" d="M109.5 617 C111.3 611.2 118.8 607.5 131.6 604.3Z"/>
<path class="t2" d="M109.5 617 C111.3 613.4 118.8 609.4 127.2 606.8"/>
<path class="cr" d="M132.6 603.7 C134.4 597.9 141.9 594.2 154.7 591Z"/>
<path class="t2" d="M132.6 603.7 C134.4 600 141.9 596.1 150.3 593.5"/>
<path class="cr" d="M155.7 590.4 C157.4 584.6 164.9 580.9 177.8 577.6Z"/>
<path class="t2" d="M155.7 590.4 C157.4 586.7 164.9 582.7 173.3 580.2"/>
<path class="cr" d="M178.8 577.1 C180.5 571.2 188 567.5 200.8 564.3Z"/>
<path class="t2" d="M178.8 577.1 C180.5 573.4 188 569.4 196.4 566.9"/>
<path class="cr" d="M201.8 563.7 C203.6 557.9 211.1 554.2 223.9 551Z"/>
<path class="t2" d="M201.8 563.7 C203.6 560.1 211.1 556.1 219.5 553.5"/>
<path class="cr" d="M224.9 550.4 C226.7 544.6 234.2 540.9 247 537.6Z"/>
<path class="t2" d="M224.9 550.4 C226.7 546.7 234.2 542.8 242.6 540.2"/>
<path class="l" d="M109 617.5 L247.6 537.5"/>
<path class="sm" d="M59 588.6 L108.9 617.4"/>
<path class="k" d="M58.3 589 L108.2 617.8"/>
<path class="k" d="M59.6 588.2 L109.5 617"/>
<path class="sm" d="M82.1 575.3 L132.4 604.3"/>
<path class="k" d="M81.4 575.6 L131.8 604.7"/>
<path class="k" d="M82.7 574.9 L133.1 604"/>
<path class="sm" d="M105.2 561.9 L155.5 591"/>
<path class="k" d="M104.5 562.3 L154.9 591.4"/>
<path class="k" d="M105.8 561.5 L156.2 590.6"/>
<path class="sm" d="M128.2 548.6 L178.6 577.7"/>
<path class="k" d="M127.6 549 L178 578.1"/>
<path class="k" d="M128.9 548.2 L179.3 577.3"/>
<path class="sm" d="M151.3 535.3 L201.7 564.3"/>
<path class="k" d="M150.7 535.6 L201 564.7"/>
<path class="k" d="M152 534.9 L202.3 564"/>
<path class="sm" d="M174.4 521.9 L224.8 551"/>
<path class="k" d="M173.8 522.3 L224.1 551.4"/>
<path class="k" d="M175.1 521.6 L225.4 550.6"/>
<path class="sm" d="M197.5 508.6 L246.6 537"/>
<path class="k" d="M196.8 509 L246 537.4"/>
<path class="k" d="M198.2 508.2 L247.3 536.6"/>
<path class="lw" d="M100.1 557.9 L146.5 531.6 L148.2 534.7 L101.9 560.9Z"/>
<path class="t" d="M100.8 559.1 L147.2 532.9"/>
<path class="t" d="M101.3 560.1 L147.7 533.9"/>
</g>
<g id="bed6">
<path class="lw" d="M310.2 584.7 L454.4 501.4 L463 506.3 L318.7 589.6Z"/>
<path class="k2" d="M311.3 585.4 L455.6 502.1"/>
<path class="w" d="M358.4 477.9 L361.3 475.1 L396.6 454.7 L402.9 452.5 L410.1 457.8 L410.1 522.9 L408.2 531.9 L369.5 557.1 L367 557.1 L358.4 549.9Z"/>
<path class="l" d="M358.4 477.9 L361.3 475.1 L396.6 454.7 L402.9 452.5 L410.1 457.8 L408.2 459.4 L368.5 482.3 L364.4 481.5Z"/>
<path class="l" d="M358.4 477.9 L358.4 543.1"/>
<path class="gb" d="M367 482 L369.2 482.3 L369.2 556.2 L367 548.1Z"/>
<path class="gb2" d="M408.2 459.4 L410.1 457.8 L410.1 521.1 L408.2 531Z"/>
<path class="g" d="M367 482 L367 548.1"/>
<path class="g" d="M369.2 482.3 L369.2 556.2"/>
<path class="g" d="M408.2 459.4 L408.2 531"/>
<path class="g" d="M410.1 457.8 L410.1 521.1"/>
<path class="lw" d="M356.8 542.6 L366.3 547.6 L366.3 557.2 L364.1 558.9 L356.8 554.9Z"/>
<path class="l" d="M364.1 549 L364.1 558.9"/>
<path class="l" d="M356.8 542.6 L358.9 541.4 L367 545.8"/>
<path class="lw" d="M410.2 520.6 L412.5 522.4 L412.5 529.4 L410.2 531"/>
<text class="logo" transform="matrix(0.8 -0.5 0 0.9 389 479.3)">ROPOX</text>
<path class="lw" d="M466.9 509 L468.6 508.3 L470.6 507.8 L472.7 507.6 L474.9 507.8 L476.9 508.3 L478.6 509 L520.6 533.3 L521.9 534.3 L522.7 535.4 L523 536.6 L522.7 537.9 L521.9 539 L520.6 540 L375.5 623.8 L373.8 624.5 L371.8 625 L369.7 625.2 L367.6 625 L365.6 624.5 L363.8 623.8 L321.8 599.5 L320.5 598.5 L319.7 597.4 L319.4 596.1 L319.7 594.9 L320.5 593.8 L321.8 592.8Z"/>
<path class="lw" d="M466.9 505.9 L468.6 505.1 L470.6 504.6 L472.7 504.5 L474.9 504.6 L476.9 505.1 L478.6 505.9 L520.6 530.1 L521.9 531.1 L522.7 532.3 L523 533.5 L522.7 534.7 L521.9 535.9 L520.6 536.9 L375.5 620.6 L373.8 621.4 L371.8 621.9 L369.7 622 L367.6 621.9 L365.6 621.4 L363.8 620.6 L321.8 596.4 L320.5 595.4 L319.7 594.2 L319.4 593 L319.7 591.8 L320.5 590.6 L321.8 589.6Z"/>
<path class="k" d="M468.8 508 L470 507.5 L471.3 507.2 L472.7 507.1 L474.2 507.2 L475.5 507.5 L476.6 508 L516.9 531.2 L517.8 531.9 L518.4 532.7 L518.5 533.5 L518.4 534.3 L517.8 535.1 L516.9 535.8 L373.6 618.5 L372.4 619 L371.1 619.3 L369.7 619.4 L368.3 619.3 L366.9 619 L365.8 618.5 L325.5 595.2 L324.6 594.6 L324.1 593.8 L323.9 593 L324.1 592.2 L324.6 591.4 L325.5 590.8Z"/>
<path class="w" d="M323.5 588 L417.6 533.7 L469.3 563.5 L375.1 617.9Z"/>
<path class="cr" d="M326.6 589.9 C328.5 594.6 336.5 589.2 350.1 576.3Z"/>
<path class="t2" d="M326.6 589.9 C328.5 592 336.5 586.9 345.4 579"/>
<path class="k" d="M323.8 588.2 L347.3 574.6"/>
<path class="t" d="M324.9 588.9 L348.4 575.3"/>
<path class="k" d="M325.9 589.4 L349.4 575.9"/>
<path class="cr" d="M350.1 576.3 C352 581 360 575.6 373.7 562.7Z"/>
<path class="t2" d="M350.1 576.3 C352 578.4 360 573.3 369 565.4"/>
<path class="k" d="M347.3 574.6 L370.9 561"/>
<path class="t" d="M348.4 575.3 L372 561.7"/>
<path class="k" d="M349.4 575.9 L373 562.3"/>
<path class="cr" d="M373.7 562.7 C375.6 567.4 383.6 562 397.2 549.1Z"/>
<path class="t2" d="M373.7 562.7 C375.6 564.8 383.6 559.7 392.5 551.8"/>
<path class="k" d="M370.9 561 L394.4 547.5"/>
<path class="t" d="M372 561.7 L395.5 548.1"/>
<path class="k" d="M373 562.3 L396.5 548.7"/>
<path class="cr" d="M397.2 549.1 C399.1 553.8 407.1 548.4 420.8 535.5Z"/>
<path class="t2" d="M397.2 549.1 C399.1 551.2 407.1 546.1 416 538.2"/>
<path class="k" d="M394.4 547.5 L418 533.9"/>
<path class="t" d="M395.5 548.1 L419 534.5"/>
<path class="k" d="M396.5 548.7 L420.1 535.1"/>
<path class="cr" d="M378.1 618.5 C379.9 614.8 387.4 610.8 400.3 605.7Z"/>
<path class="t2" d="M378.1 618.5 C379.9 616 387.4 611.8 395.9 608.2"/>
<path class="cr" d="M401.6 604.9 C403.4 601.2 411 597.2 423.9 592.1Z"/>
<path class="t2" d="M401.6 604.9 C403.4 602.4 411 598.2 419.4 594.7"/>
<path class="cr" d="M425.2 591.3 C427 587.6 434.5 583.6 447.4 578.5Z"/>
<path class="t2" d="M425.2 591.3 C427 588.8 434.5 584.7 443 581.1"/>
<path class="cr" d="M448.7 577.7 C450.5 574 458.1 570 470.9 564.9Z"/>
<path class="t2" d="M448.7 577.7 C450.5 575.2 458.1 571.1 466.5 567.5"/>
<path class="k" d="M377.2 619 L471.3 564.7"/>
<path class="k" d="M372.8 616.5 L467 562.2"/>
<path class="k" d="M375.4 618 L469.5 563.7"/>
<path class="k" d="M325.9 590.2 L374.5 618.3"/>
<path class="k" d="M327.3 589.5 L375.8 617.5"/>
<path class="sm" d="M350.1 576.3 L399.2 604.6"/>
<path class="k" d="M349.5 576.6 L398.5 604.9"/>
<path class="k" d="M350.8 575.9 L399.8 604.2"/>
<path class="sm" d="M373.7 562.7 L422.7 591"/>
<path class="k" d="M373 563.1 L422 591.4"/>
<path class="k" d="M374.3 562.3 L423.4 590.6"/>
<path class="sm" d="M397.2 549.1 L446.2 577.4"/>
<path class="k" d="M396.6 549.5 L445.6 577.8"/>
<path class="k" d="M397.9 548.7 L446.9 577"/>
<path class="tr" d="M470.7 562.5 L521 533.5 L486.1 513.4 L513.4 525Z"/>
<path class="k" d="M476.5 557.6 L518.5 533.4"/>
<path class="k" d="M478.3 555 L517.1 532.6"/>
<path class="k" d="M480.3 552 L515.5 531.7"/>
<path class="k" d="M482.8 548.3 L513.6 530.6"/>
<path class="k" d="M485.9 543.9 L511.2 529.2"/>
<path class="k" d="M489.4 538.7 L508.5 527.6"/>
<path class="t" d="M496 521.3 L518.3 534.2"/>
<path class="t" d="M494 522.4 L516.3 535.3"/>
<path class="t" d="M491.3 524 L513.6 536.9"/>
<path class="t" d="M488.2 525.8 L510.5 538.7"/>
<path class="t" d="M484.3 528.1 L506.6 540.9"/>
<path class="k3" d="M471.6 561.2 L518.7 534"/>
<path class="k3" d="M474.8 557.7 L516.1 533.9"/>
<path class="lw" d="M502.2 533 L484.1 551.4 L487 551 L504.9 533.9Z"/>
<path class="lw" d="M464.6 560.8 L489.4 542.2 L512.6 519.3 L513.5 522 L513.1 524.8 L490.4 547.4 L467.9 564.4 L469 564.2Z"/>
<path class="t" d="M466.3 562.6 L490 544.6 L512.9 521.7"/>
<path class="t" d="M466.6 564.1 L490.2 546.2 L513 523.4"/>
<path class="lw" d="M419.6 534.8 L442.4 515 L461.4 493.6 Q463.7 490.1 465.4 492.1 Q489.9 504.3 510.1 517.9 Q512.8 519.1 511.3 520.9 L489.4 542.2 L464.6 560.8Z"/>
<path class="sm" d="M420.6 535.4 L443.4 515.6 L463.3 493.2"/>
<path class="k" d="M419.6 534.8 L442.4 515 L461.4 493.6"/>
<path class="k" d="M421.6 536 L444.5 516.2 L465 493"/>
<path class="sm" d="M442.4 515 L490 542.5"/>
<path class="k" d="M441.8 515.6 L489.4 543.1"/>
<path class="k" d="M443 514.4 L490.6 541.9"/>
<path class="sm" d="M420.8 535.5 L469.8 563.8"/>
<path class="k" d="M420.1 535.9 L469.1 564.2"/>
<path class="k" d="M421.4 535.1 L470.4 563.4"/>
<path class="lw" d="M367.5 556.5 L414.4 529.9 L416.2 533 L369.3 559.5Z"/>
<path class="t" d="M368.2 557.7 L415.1 531.2"/>
<path class="t" d="M368.8 558.7 L415.6 532.2"/>
</g>
<g id="folded">
<path class="w f" d="M751.6 475.6 L756.5 471.5 L815.9 437.8 L825.8 433.3 L838.4 442.2 L838.4 470 L751.6 520Z"/>
<path class="lw f" d="M751.6 475.6 L756.5 471.5 L815.9 437.8 L825.8 433.3 L838.4 442.2 L835.7 445.4 L768.2 483.6Z"/>
<path class="l f" d="M751.6 475.6 L751.6 497"/>
<path class="l f" d="M768.2 483.6 L768.2 489"/>
<path class="w f" d="M751.6 600 L751.6 641 L762.3 646.6 L771 646 L835.2 609.5 L839.2 606.3 L839.2 558 L751.6 600Z"/>
<path class="l f" d="M751.6 611.5 L751.6 641 L760 646 L762.3 646.6 L771 646 L835.2 609.5 L839.2 606.3 L839.2 558"/>
<path class="l f" d="M770.2 612 L770.2 646"/>
<path class="l f" d="M835.2 561 L835.2 609.5"/>
<path class="t f" d="M771 643.3 L835.2 606.8"/>
<path class="l f" d="M695.5 621.2 L689.4 624.8 L707.4 635.4 L754.8 608.2"/>
<path class="lw f" d="M695.5 544.9 Q695.5 529.9 708.5 522.4 L909.2 406.5 Q922.2 399 922.2 414 L922.2 495.1 Q922.2 510.1 909.2 517.6 L708.5 633.5 Q695.5 641 695.5 626Z"/>
<path class="l f" d="M700.7 543 Q700.7 531 711.1 525 L908.2 411.2 Q918.6 405.2 918.6 417.2 L918.6 496 Q918.6 508 908.2 514 L711.1 627.8 Q700.7 633.8 700.7 621.8Z"/>
<path class="lw f" d="M704.1 542.9 Q704.1 533.9 711.9 529.4 L906.4 417.1 Q914.2 412.6 914.2 421.6 L914.2 496.7 Q914.2 505.7 906.4 510.2 L711.9 622.5 Q704.1 627 704.1 618Z"/>
<path class="t f" d="M708 533 C714 555 714.5 600 708.5 621"/>
<path class="t f" d="M709.5 531 C718 556 718 598 710 619"/>
<path class="l f" d="M711 529.5 C722 556 721.5 596 711.5 617"/>
<path class="l f" d="M906.5 416 C915 440 915 480 910 502"/>
<path class="t f" d="M904.5 417.5 C911.5 442 911.5 478 907.5 503"/>
<circle cx="916.3" cy="419" r=".6" fill="#333"/>
<circle cx="916.3" cy="428" r=".6" fill="#333"/>
<circle cx="916.3" cy="437" r=".6" fill="#333"/>
<circle cx="916.3" cy="446" r=".6" fill="#333"/>
<circle cx="916.3" cy="455" r=".6" fill="#333"/>
<circle cx="916.3" cy="464" r=".6" fill="#333"/>
<circle cx="916.3" cy="473" r=".6" fill="#333"/>
<circle cx="916.3" cy="482" r=".6" fill="#333"/>
<circle cx="916.3" cy="491" r=".6" fill="#333"/>
<path class="lw f" d="M773 493 C777 512 780.5 540 781.6 560 L781.6 592.5 L858.4 549 L858.4 510 C857 485 853 462 849 447.2Z"/>
<path class="l f" d="M781.8 535.4 L857.4 494.4"/>
<path class="l f" d="M781.6 592.4 L858.4 548.8"/>
<path class="t f" d="M781.6 590.2 L858.4 546.6"/>
<ellipse cx="821.7" cy="556.5" rx="4.7" ry="4.3" fill="#fff" stroke="#262628" stroke-width=".8" transform="rotate(-30 821.7 556.5)"/>
<ellipse cx="821.7" cy="556.5" rx="3.0" ry="2.7" fill="#aaa" stroke="#262628" stroke-width="1.2" transform="rotate(-30 821.7 556.5)"/>
<path class="lw f" d="M771.2 494.5 C773.5 515 777.5 550 779.5 588 L771.2 593.2 L771.2 606.8 Q771.5 610.5 775.3 613 L781.6 611 Q784 610 784.7 600 L784.7 588 C784 540 781 508 776.4 491.4Z"/>
<path class="l f" d="M773.6 493 C777 512 780.5 535 781.6 548.6 L781.6 592"/>
<path class="t f" d="M779.5 588 L779.8 597"/>
<path class="lw f" d="M752.5 608.8 L762.9 623.4 L767 600.8Z"/>
<path class="t f" d="M756.5 609.5 L762.3 617.5 L764.6 605Z"/>
<path class="lw f" d="M848.1 447.7 C851.5 462 856 488 857.4 498.6 L858.4 548.4 L847 554.7 L847 563 Q848.5 569.5 855.3 571.3 Q860.5 570 861.6 563 L863.6 538.1 C863.5 510 860.5 470 852.2 445.6Z"/>
<path class="l f" d="M850.1 446.6 C853.5 460 856.5 480 857.4 492.3 L858.4 548.4"/>
<path class="l f" d="M839.7 558 L847 554.7"/>
<path class="t f" d="M842 574 Q846 571 847 562"/>
<circle cx="783.4" cy="537.5" r=".5" fill="#444"/>
<circle cx="780" cy="577" r=".5" fill="#444"/>
<circle cx="855.4" cy="499" r=".5" fill="#444"/>
<circle cx="855.2" cy="560" r=".5" fill="#444"/>
<circle cx="777.8" cy="604.5" r=".5" fill="#444"/>
</g>
</svg>

<svg class="ic2" width="1122" height="722" viewBox="0 0 1122 722" style="position:absolute;left:0;top:0">
<g><circle cx="529.1" cy="33.6" r="17.2" fill="#fff"/><g transform="translate(529.6 33.2) rotate(45)" fill="#555b69"><path d="M-7.1 0H7.1C7.1 3.6 4.2 6.6 1.6 7L-1.6 7C-4.2 6.6 -7.1 3.6 -7.1 0Z"/><rect x="-1.3" y="6" width="2.6" height="4.8"/><rect x="-4.4" y="-7.4" width="1.8" height="5.9" rx=".3"/><rect x="2.6" y="-7.4" width="1.8" height="5.9" rx=".3"/></g></g>
<g><circle cx="1086.2" cy="33.2" r="17.2" fill="#fff"/><g transform="translate(1086.7 32.800000000000004) rotate(45)" fill="#555b69"><path d="M-7.1 0H7.1C7.1 3.6 4.2 6.6 1.6 7L-1.6 7C-4.2 6.6 -7.1 3.6 -7.1 0Z"/><rect x="-1.3" y="6" width="2.6" height="4.8"/><rect x="-4.4" y="-7.4" width="1.8" height="5.9" rx=".3"/><rect x="2.6" y="-7.4" width="1.8" height="5.9" rx=".3"/></g></g>
<g><circle cx="529.1" cy="410.4" r="17.2" fill="#fff"/><g transform="translate(529.6 410.0) rotate(45)" fill="#555b69"><path d="M-7.1 0H7.1C7.1 3.6 4.2 6.6 1.6 7L-1.6 7C-4.2 6.6 -7.1 3.6 -7.1 0Z"/><rect x="-1.3" y="6" width="2.6" height="4.8"/><rect x="-4.4" y="-7.4" width="1.8" height="5.9" rx=".3"/><rect x="2.6" y="-7.4" width="1.8" height="5.9" rx=".3"/></g></g>
</svg>
<div class="note"><span>The bed can be folded</span><span style="transform:translateY(-.7px) scaleX(.968)">up to save space in the</span><span style="transform:translateY(.4px) scaleX(1.023)">bathroom.</span></div>

</body></html>
